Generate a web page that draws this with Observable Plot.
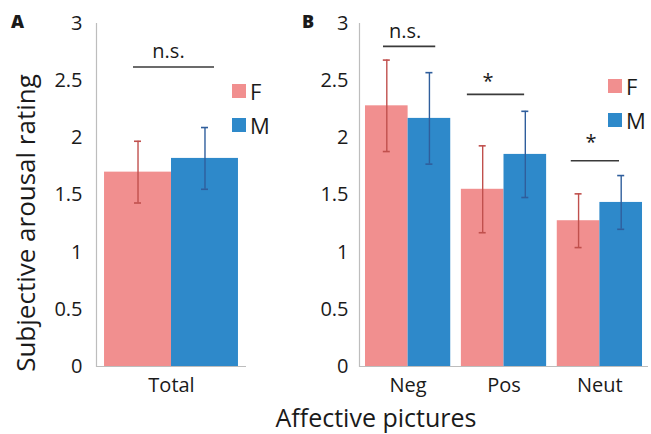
<!DOCTYPE html>
<html><head><meta charset="utf-8">
<script src="https://cdn.jsdelivr.net/npm/d3@7"></script>
<script src="https://cdn.jsdelivr.net/npm/@observablehq/plot@0.6"></script>
<style>
body{margin:0;background:#fff;}
#fig{position:relative;width:651px;height:434px;font-family:"Open Sans",sans-serif;color:#1a1a1a;overflow:hidden;background:#fff}
#fig svg{position:absolute;top:0}
.abs{position:absolute;white-space:nowrap;line-height:1}
.sw{position:absolute;width:14px;height:14px}
</style></head><body><div id="fig"></div>
<script>
// ---- data ----
const categoriesA = ["Total"];
const femaleA = [1.70];
const maleA = [1.82];
const femaleErrA = [0.27];
const maleErrA = [0.27];

const categoriesB = ["Neg", "Pos", "Neut"];
const femaleB = [2.28, 1.55, 1.275];
const maleB = [2.17, 1.855, 1.435];
const femaleErrB = [0.40, 0.38, 0.235];
const maleErrB = [0.40, 0.377, 0.235];

const yTicks = [0, 0.5, 1, 1.5, 2, 2.5, 3];
const sexes = ["F", "M"];
const bracketCatsA = ["Total"];
const bracketYA = [2.62];
const bracketLabelsA = ["n.s."];
const bracketCatsB = ["Neg", "Pos", "Neut"];
const bracketYB = [2.80, 2.38, 1.80];
const bracketLabelsB = ["n.s.", "*", "*"];

// ---- styles ----
const FCOL = "#F18F8F", MCOL = "#2E89CA";
const FERR = "#C0504D", MERR = "#2F5E9C";
const AXC = "#BDBDBD", BRC = "#3A3A3A";
const FONT = '"Open Sans", sans-serif';

const fig = document.getElementById("fig");

function panel(cfg) {
  const rows = cfg.cats.map((c, i) => ({cat: c, F: cfg.f[i], M: cfg.m[i], Fe: cfg.fe[i], Me: cfg.me[i]}));
  const brackets = cfg.bCats.map((c, i) => ({cat: c, y: cfg.bY[i], label: cfg.bLabels[i]}));
  const xOpts = {type: "band", domain: cfg.cats, range: [cfg.marginLeft, cfg.width - cfg.marginRight],
    paddingInner: cfg.paddingInner, paddingOuter: cfg.paddingOuter, round: false};
  const bw = Plot.scale({x: xOpts}).bandwidth;
  const cap = 3.5;
  const marks = [
    Plot.barY(rows, {x: "cat", y: "F", fill: FCOL, insetRight: bw / 2, insetLeft: 0}),
    Plot.barY(rows, {x: "cat", y: "M", fill: MCOL, insetLeft: bw / 2, insetRight: 0}),
    Plot.ruleY([0], {stroke: AXC, strokeWidth: 1.2}),
    Plot.frame({anchor: "left", stroke: AXC, strokeWidth: 1.2}),
    Plot.ruleX(rows, {x: "cat", y1: d => d.F - d.Fe, y2: d => d.F + d.Fe, dx: -bw / 4, stroke: FERR, strokeWidth: 1.4}),
    Plot.ruleX(rows, {x: "cat", y1: d => d.M - d.Me, y2: d => d.M + d.Me, dx: bw / 4, stroke: MERR, strokeWidth: 1.4}),
    Plot.tickY(rows, {x: "cat", y: d => d.F + d.Fe, insetLeft: bw / 4 - cap, insetRight: 3 * bw / 4 - cap, stroke: FERR, strokeWidth: 1.6}),
    Plot.tickY(rows, {x: "cat", y: d => d.F - d.Fe, insetLeft: bw / 4 - cap, insetRight: 3 * bw / 4 - cap, stroke: FERR, strokeWidth: 1.6}),
    Plot.tickY(rows, {x: "cat", y: d => d.M + d.Me, insetLeft: 3 * bw / 4 - cap, insetRight: bw / 4 - cap, stroke: MERR, strokeWidth: 1.6}),
    Plot.tickY(rows, {x: "cat", y: d => d.M - d.Me, insetLeft: 3 * bw / 4 - cap, insetRight: bw / 4 - cap, stroke: MERR, strokeWidth: 1.6}),
    Plot.axisY({ticks: yTicks, tickSize: 0, tickPadding: cfg.tickPadding, tickFormat: d => String(d), fontSize: 20, label: null}),
    Plot.axisX({tickSize: 0, tickPadding: 11, fontSize: 20, label: null})
  ];
  brackets.forEach((b, i) => {
    const s = cfg.bStyle[i];
    marks.push(Plot.ruleY([b], {x1: "cat", x2: "cat", y: "y", insetLeft: s.l, insetRight: s.r, stroke: BRC, strokeWidth: 1.6}));
    marks.push(Plot.text([b], {x: "cat", y: "y", text: "label", dx: s.dx, dy: s.dy, fontSize: 20, fill: "#1a1a1a"}));
  });
  const svg = Plot.plot({
    width: cfg.width, height: 434,
    marginTop: 23, marginBottom: 68, marginLeft: cfg.marginLeft, marginRight: cfg.marginRight,
    x: xOpts,
    y: {domain: [0, 3]},
    style: {fontFamily: FONT, color: "#1a1a1a", background: "transparent", overflow: "visible"},
    marks
  });
  svg.style.left = cfg.left + "px";
  fig.appendChild(svg);
}

// Panel A has a single category, so Plot spans its bracket over the whole frame: insets are frame-relative.
panel({cats: categoriesA, f: femaleA, m: maleA, fe: femaleErrA, me: maleErrA,
  bCats: bracketCatsA, bY: bracketYA, bLabels: bracketLabelsA,
  bStyle: [{l: 37, r: 32, dx: -3, dy: -15}],
  left: 0, width: 300, marginLeft: 96, marginRight: 54, paddingInner: 0, paddingOuter: 0.06, tickPadding: 14});

panel({cats: categoriesB, f: femaleB, m: maleB, fe: femaleErrB, me: maleErrB,
  bCats: bracketCatsB, bY: bracketYB, bLabels: bracketLabelsB,
  bStyle: [{l: 18, r: 15, dx: -3, dy: -15}, {l: 6, r: 22, dx: -16, dy: -13}, {l: 14, r: 23, dx: -9, dy: -18}],
  left: 300, width: 351, marginLeft: 59, marginRight: 3, paddingInner: 0.111, paddingOuter: 0.0625, tickPadding: 11});

// ---- legends, panel letters, titles (HTML) ----
function add(html, style) {
  const d = document.createElement("div");
  d.className = "abs"; d.innerHTML = html; Object.assign(d.style, style); fig.appendChild(d); return d;
}
function legend(x, y) {
  sexes.forEach((s, i) => {
    const sw = document.createElement("div");
    sw.className = "sw";
    Object.assign(sw.style, {left: x + "px", top: (y + i * 33.5) + "px", background: s === "F" ? FCOL : MCOL});
    fig.appendChild(sw);
    add(s, {left: (x + 18) + "px", top: (y + i * 33.5 - 4) + "px", fontSize: "22px"});
  });
}
legend(232, 84);
legend(608, 79);

add("A", {left: "11px", top: "12px", fontSize: "18px", fontWeight: "800"});
add("B", {left: "302px", top: "12px", fontSize: "18px", fontWeight: "800"});
add("Affective pictures", {left: "376px", top: "405px", fontSize: "25px", transform: "translateX(-50%)"});
add("Subjective arousal rating", {left: "25px", top: "223px", fontSize: "26px", transform: "translate(-50%,-50%) rotate(-90deg)"});
</script></body></html>
